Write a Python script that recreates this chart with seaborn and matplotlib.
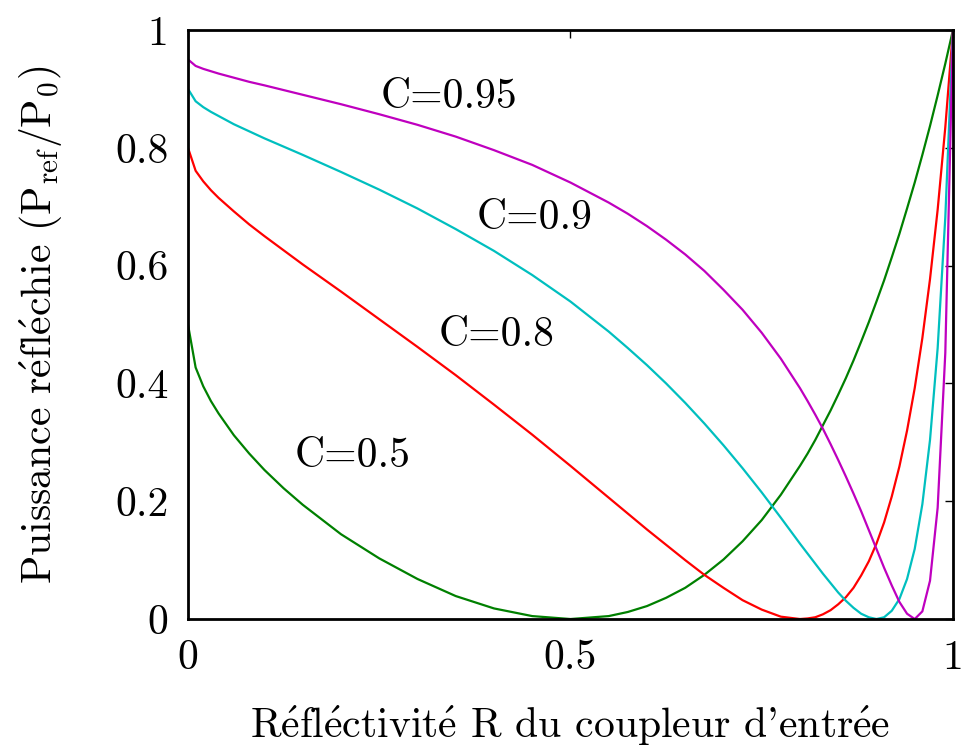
import pandas as pd
import matplotlib
matplotlib.use("Agg")
import matplotlib.pyplot as plt
import seaborn as sns

# Reflectivity of the input coupler (x axis), shared by all curves
R = [0, 0.01, 0.02, 0.03, 0.04, 0.06, 0.08, 0.1, 0.125, 0.15, 0.2, 0.25,
     0.3, 0.35, 0.4, 0.45, 0.5, 0.55, 0.575, 0.6, 0.625, 0.65, 0.675, 0.7,
     0.725, 0.75, 0.775, 0.8, 0.81, 0.82, 0.83, 0.84, 0.85, 0.86, 0.87,
     0.88, 0.89, 0.9, 0.91, 0.92, 0.93, 0.94, 0.95, 0.96, 0.97, 0.98, 0.99,
     1.0]

# Reflected power
p_c050 = [0.5, 0.427, 0.395, 0.370, 0.349, 0.312, 0.281, 0.253, 0.222, 0.194,
          0.144, 0.103, 0.068, 0.039, 0.018, 0.005, 0.0, 0.005, 0.012, 0.022,
          0.036, 0.053, 0.075, 0.101, 0.132, 0.168, 0.211, 0.260, 0.281,
          0.304, 0.329, 0.354, 0.381, 0.409, 0.439, 0.471, 0.504, 0.539,
          0.575, 0.614, 0.654, 0.697, 0.741, 0.788, 0.837, 0.889, 0.943, 1.0]
p_c080 = [0.8, 0.761, 0.743, 0.728, 0.715, 0.692, 0.670, 0.650, 0.626, 0.602,
          0.556, 0.509, 0.462, 0.414, 0.364, 0.313, 0.260, 0.206, 0.179, 0.152,
          0.126, 0.100, 0.075, 0.053, 0.032, 0.016, 0.004, 0.0, 0.001, 0.003,
          0.008, 0.015, 0.025, 0.037, 0.053, 0.074, 0.098, 0.128, 0.164,
          0.208, 0.259, 0.320, 0.392, 0.477, 0.577, 0.695, 0.835, 1.0]
p_c090 = [0.9, 0.879, 0.869, 0.861, 0.854, 0.840, 0.828, 0.816, 0.802, 0.788,
          0.759, 0.729, 0.697, 0.662, 0.625, 0.584, 0.539, 0.488, 0.460, 0.431,
          0.400, 0.367, 0.332, 0.295, 0.256, 0.215, 0.172, 0.128, 0.111, 0.094,
          0.077, 0.061, 0.045, 0.031, 0.019, 0.009, 0.003, 0.0, 0.003, 0.014,
          0.034, 0.068, 0.119, 0.195, 0.304, 0.460, 0.682, 1.0]
p_c095 = [0.95, 0.939, 0.934, 0.930, 0.926, 0.919, 0.912, 0.906, 0.898, 0.890,
          0.874, 0.857, 0.839, 0.819, 0.796, 0.771, 0.741, 0.707, 0.688, 0.667,
          0.644, 0.619, 0.591, 0.559, 0.525, 0.486, 0.442, 0.392, 0.370, 0.347,
          0.323, 0.297, 0.270, 0.242, 0.213, 0.183, 0.151, 0.119, 0.087, 0.057,
          0.029, 0.009, 0.0, 0.013, 0.065, 0.189, 0.452, 1.0]

labels = ["C=0.5", "C=0.8", "C=0.9", "C=0.95"]
colors = ["#008000", "#ff0000", "#00bfbf", "#bf00bf"]
label_x = [0.215, 0.403, 0.453, 0.341]
label_y = [0.277, 0.481, 0.680, 0.886]

frames = []
for lab, vals in zip(labels, [p_c050, p_c080, p_c090, p_c095]):
    frames.append(pd.DataFrame({"R": R, "P": vals, "C": lab}))
df = pd.concat(frames, ignore_index=True)

sns.set_theme(style="white")
plt.rcParams["font.family"] = ["cmr10", "DejaVu Serif"]
plt.rcParams["mathtext.fontset"] = "cm"
plt.rcParams["axes.formatter.use_mathtext"] = True
plt.rcParams["text.color"] = "black"
plt.rcParams["axes.labelcolor"] = "black"

# cmr10 has no é, so the accented letter goes through mathtext
E = r"$\mathrm{\acute{e}}$"

fig = plt.figure(figsize=(9.73, 7.46), dpi=100)
ax = fig.add_axes([0.1932, 0.1702, 0.9794 - 0.1932, 0.9598 - 0.1702])

sns.lineplot(data=df, x="R", y="P", hue="C", palette=colors, estimator=None,
             legend=False, linewidth=1.6, ax=ax)

for lab, x, y in zip(labels, label_x, label_y):
    ax.text(x, y, lab, fontsize=30, ha="center", va="center", color="black")

ax.set_xlim(0, 1)
ax.set_ylim(0, 1)
ax.set_xticks([0, 0.5, 1])
ax.set_xticklabels(["0", "0.5", "1"])
ax.set_yticks([0, 0.2, 0.4, 0.6, 0.8, 1])
ax.set_yticklabels(["0", "0.2", "0.4", "0.6", "0.8", "1"])
ax.tick_params(direction="in", length=6, width=1, colors="black",
               labelsize=30, top=True, right=True, pad=14)
ax.tick_params(axis="x", pad=15)
for s in ax.spines.values():
    s.set_visible(True)
    s.set_color("black")
    s.set_linewidth(2)

ax.set_xlabel("R" + E + "fl" + E + "ctivit" + E + " R du coupleur d'entr" + E + "e",
              fontsize=30, labelpad=19, color="black")
ax.set_ylabel("Puissance r" + E + "fl" + E + "chie "
              + r"$(\mathrm{P}_{\mathrm{ref}}/\mathrm{P}_0)$",
              fontsize=30, labelpad=36, color="black")

fig.savefig("out.png", dpi=100)
plt.close(fig)
